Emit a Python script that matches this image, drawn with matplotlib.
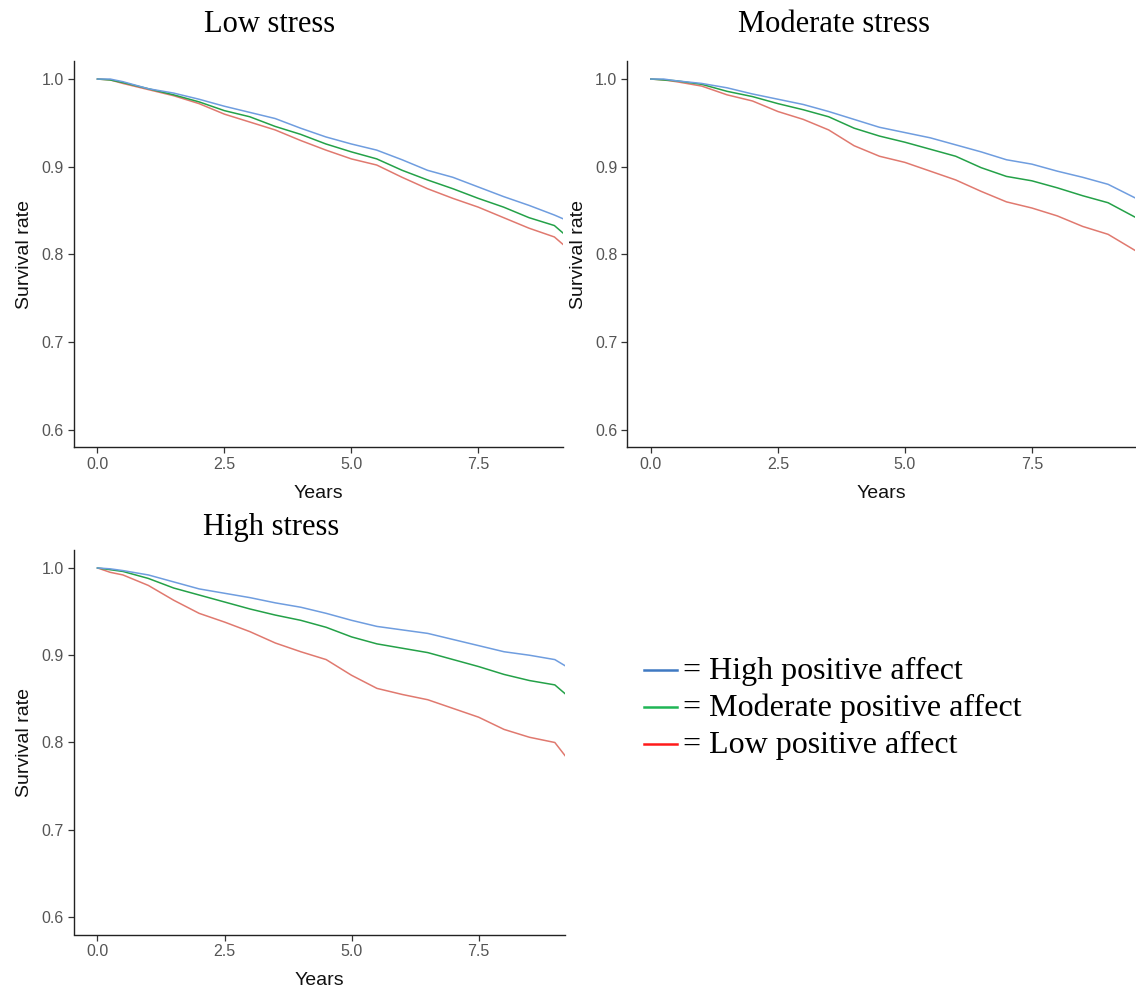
import matplotlib
matplotlib.use('Agg')

import matplotlib.pyplot as plt
from matplotlib.lines import Line2D

plt.rcParams['font.family'] = ['Liberation Sans', 'DejaVu Sans']

# survival curves (years, survival rate)
years_low = [0, 0.25, 0.5, 1.0, 1.5, 2.0, 2.5, 3.0, 3.5, 4.0, 4.5, 5.0, 5.5,
             6.0, 6.5, 7.0, 7.5, 8.0, 8.5, 9.0, 9.2]
low_high_pa = [1.0, 1.0, 0.997, 0.989, 0.984, 0.977, 0.969, 0.962, 0.955, 0.944, 0.934,
               0.926, 0.919, 0.908, 0.896, 0.888, 0.877, 0.866, 0.856, 0.845, 0.840]
low_mod_pa = [1.0, 0.999, 0.996, 0.989, 0.982, 0.974, 0.964, 0.957, 0.946, 0.937, 0.926,
              0.917, 0.909, 0.896, 0.885, 0.875, 0.864, 0.854, 0.842, 0.833, 0.823]
low_low_pa = [1.0, 0.999, 0.995, 0.988, 0.981, 0.972, 0.960, 0.951, 0.942, 0.930, 0.919,
              0.909, 0.902, 0.888, 0.875, 0.864, 0.854, 0.842, 0.830, 0.820, 0.810]

years_mod = [0, 0.25, 0.5, 1.0, 1.5, 2.0, 2.5, 3.0, 3.5, 4.0, 4.5, 5.0, 5.5,
             6.0, 6.5, 7.0, 7.5, 8.0, 8.5, 9.0, 9.55]
mod_high_pa = [1.0, 1.0, 0.998, 0.995, 0.990, 0.983, 0.977, 0.971, 0.963, 0.954, 0.945,
               0.939, 0.933, 0.925, 0.917, 0.908, 0.903, 0.895, 0.888, 0.880, 0.864]
mod_mod_pa = [1.0, 0.999, 0.998, 0.994, 0.986, 0.980, 0.972, 0.965, 0.957, 0.944, 0.935,
              0.928, 0.920, 0.912, 0.899, 0.889, 0.884, 0.876, 0.867, 0.859, 0.842]
mod_low_pa = [1.0, 0.999, 0.997, 0.992, 0.982, 0.975, 0.963, 0.954, 0.942, 0.924, 0.912,
              0.905, 0.895, 0.885, 0.872, 0.860, 0.853, 0.844, 0.832, 0.823, 0.804]

years_high = [0, 0.25, 0.5, 1.0, 1.5, 2.0, 2.5, 3.0, 3.5, 4.0, 4.5, 5.0, 5.5,
              6.0, 6.5, 7.0, 7.5, 8.0, 8.5, 9.0, 9.2]
high_high_pa = [1.0, 0.999, 0.997, 0.992, 0.984, 0.976, 0.971, 0.966, 0.960, 0.955, 0.948,
                0.940, 0.933, 0.929, 0.925, 0.918, 0.911, 0.904, 0.900, 0.895, 0.888]
high_mod_pa = [1.0, 0.998, 0.996, 0.988, 0.977, 0.969, 0.961, 0.953, 0.946, 0.940, 0.932,
               0.921, 0.913, 0.908, 0.903, 0.895, 0.887, 0.878, 0.871, 0.866, 0.856]
high_low_pa = [1.0, 0.995, 0.992, 0.980, 0.963, 0.948, 0.938, 0.927, 0.914, 0.904, 0.895,
               0.877, 0.862, 0.855, 0.849, 0.839, 0.829, 0.815, 0.806, 0.800, 0.785]

panel_titles = ['Low stress', 'Moderate stress', 'High stress']
legend_labels = ['= High positive affect', '= Moderate positive affect', '= Low positive affect']
y_ticks = [0.6, 0.7, 0.8, 0.9, 1.0]
x_ticks = [0.0, 2.5, 5.0, 7.5]

curve_colors = ['#6f9ddf', '#24a148', '#e0796f']   # high, moderate, low PA
legend_colors = ['#3f79c2', '#1fb555', '#ff1a1a']

W, H = 1136, 988
fig = plt.figure(figsize=(W / 100, H / 100), dpi=100)
fig.patch.set_facecolor('white')


def px_box(left, top, right, bottom):
    return [left / W, 1 - bottom / H, (right - left) / W, (bottom - top) / H]


def make_panel(box, x, curves, xmax):
    ax = fig.add_axes(box)
    # draw low first so blue sits on top like the original
    for ys, col in reversed(list(zip(curves, curve_colors))):
        ax.plot(x, ys, color=col, lw=1.1)
    ax.set_xlim(-0.47, xmax)
    ax.set_ylim(0.58, 1.02)
    ax.set_xticks(x_ticks)
    ax.set_xticklabels(['{:.1f}'.format(t) for t in x_ticks])
    ax.set_yticks(y_ticks)
    ax.set_yticklabels(['{:.1f}'.format(t) for t in y_ticks])
    for side in ['top', 'right']:
        ax.spines[side].set_visible(False)
    for side in ['left', 'bottom']:
        ax.spines[side].set_linewidth(1.0)
        ax.spines[side].set_color('#222222')
    ax.tick_params(length=4, width=0.9, color='#333333', labelcolor='#555555',
                   labelsize=11.5, pad=3)
    ax.set_xlabel('Years', fontsize=14, labelpad=9, color='#111111')
    ax.set_ylabel('Survival rate', fontsize=14, labelpad=6, color='#111111')
    return ax


make_panel(px_box(73.6, 61.5, 563, 447.5), years_low,
           [low_high_pa, low_mod_pa, low_low_pa], 9.17)
make_panel(px_box(627, 61.5, 1135, 447.5), years_mod,
           [mod_high_pa, mod_mod_pa, mod_low_pa], 9.53)
make_panel(px_box(73.6, 550.5, 565, 934.5), years_high,
           [high_high_pa, high_mod_pa, high_low_pa], 9.2)

serif = ['Liberation Serif', 'DejaVu Serif']
title_pos = [(270, 25), (834, 25), (271, 527)]
for t, (tx, ty) in zip(panel_titles, title_pos):
    fig.text(tx / W, 1 - ty / H, t, ha='center', va='center',
             fontsize=22, family=serif)

# hand-made legend on the empty fourth cell
rows_y = [670, 707, 744]
for lab, col, ry in zip(legend_labels, legend_colors, rows_y):
    fig.add_artist(Line2D([644 / W, 677 / W], [1 - ry / H, 1 - ry / H],
                          color=col, lw=1.8, transform=fig.transFigure))
    fig.text(683 / W, 1 - (ry + 9) / H, lab, ha='left', va='baseline',
             fontsize=23, family=serif)

fig.savefig('out.png', dpi=100)
